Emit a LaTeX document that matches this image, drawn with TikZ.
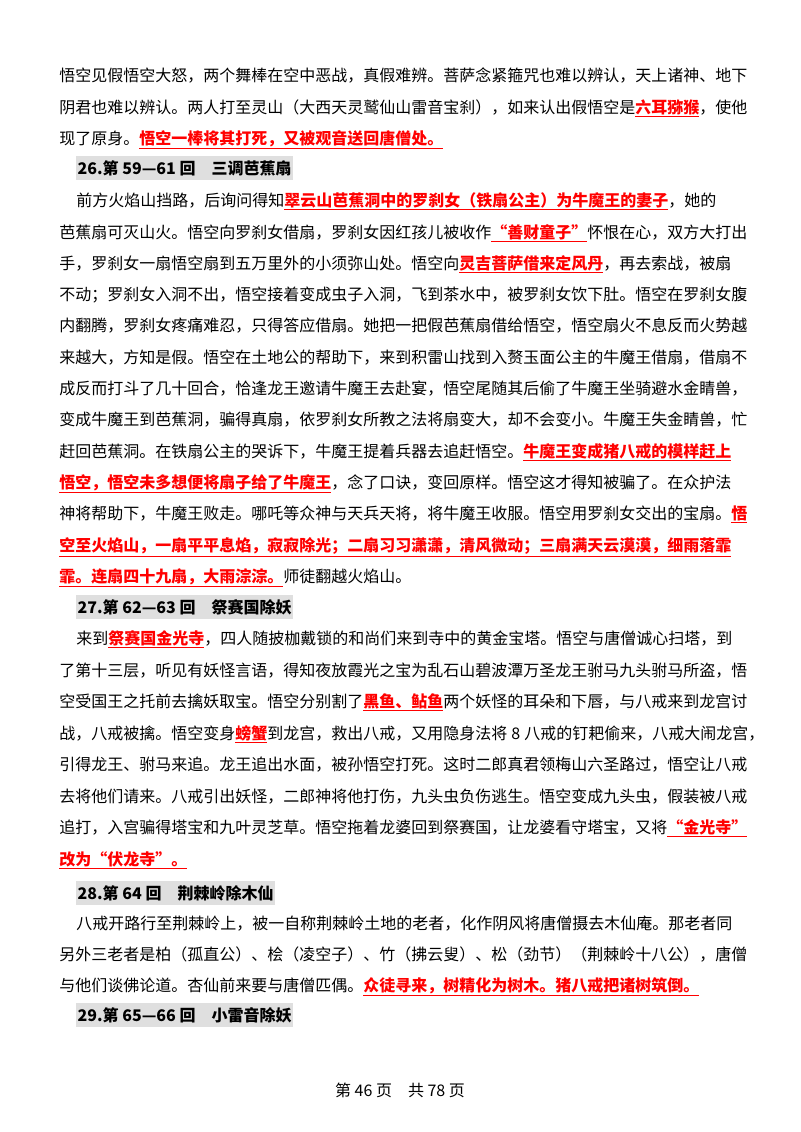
\documentclass[tikz,border=0pt]{standalone}
\usepackage{fontspec}
\usepackage{xcolor}
\setmainfont{Noto Sans CJK SC}
\XeTeXlinebreaklocale "zh"
\XeTeXlinebreakskip=0pt plus 6pt minus 0.5pt
\newcommand\redu[1]{{\color{red}\bfseries\underline{#1}}}
\newcommand\fline[3]{\node[txt] (#1) at (59,#2) {\hbox to 528.75pt{#3}};}
\newcommand\sline[4]{\node[txt] (#1) at (#2,#3) {#4};}
\newcommand\headline[3]{\node[head] (#1) at (76,#2) {#3};}
\tikzset{
  txt/.style={anchor=base west,inner sep=0pt,font=\fontsize{12pt}{14pt}\selectfont},
  head/.style={anchor=base west,inner xsep=1pt,inner ysep=3pt,fill=gray!25,font=\fontsize{12pt}{14pt}\selectfont\bfseries}
}
\begin{document}
\begin{tikzpicture}[x=0.75pt,y=-0.75pt]
\useasboundingbox[fill=white] (0,0) rectangle (800,1132);
% 25 (end)
\fline{l1}{81}{悟空见假悟空大怒，两个舞棒在空中恶战，真假难辨。菩萨念紧箍咒也难以辨认，天上诸神、地下}
\fline{l2}{113}{阴君也难以辨认。两人打至灵山（大西天灵鹫仙山雷音宝刹），如来认出假悟空是\redu{六耳猕猴}，使他}
\sline{l3}{59}{144}{现了原身。\redu{悟空一棒将其打死，又被观音送回唐僧处。}}
% 26
\headline{h26}{174}{26.第 59—61 回\quad 三调芭蕉扇}
\node[txt] (p1) at (76,206) {\hbox to 511.75pt{前方火焰山挡路，后询问得知\redu{翠云山芭蕉洞中的罗刹女（铁扇公主）为牛魔王的妻子}，她的}};
\fline{p2}{238}{芭蕉扇可灭山火。悟空向罗刹女借扇，罗刹女因红孩儿被收作\redu{“善财童子”}怀恨在心，双方大打出}
\fline{p3}{269}{手，罗刹女一扇悟空扇到五万里外的小须弥山处。悟空向\redu{灵吉菩萨借来定风丹}，再去索战，被扇}
\fline{p4}{300}{不动；罗刹女入洞不出，悟空接着变成虫子入洞，飞到茶水中，被罗刹女饮下肚。悟空在罗刹女腹}
\fline{p5}{331}{内翻腾，罗刹女疼痛难忍，只得答应借扇。她把一把假芭蕉扇借给悟空，悟空扇火不息反而火势越}
\fline{p6}{363}{来越大，方知是假。悟空在土地公的帮助下，来到积雷山找到入赘玉面公主的牛魔王借扇，借扇不}
\fline{p7}{394}{成反而打斗了几十回合，恰逢龙王邀请牛魔王去赴宴，悟空尾随其后偷了牛魔王坐骑避水金睛兽，}
\fline{p8}{425}{变成牛魔王到芭蕉洞，骗得真扇，依罗刹女所教之法将扇变大，却不会变小。牛魔王失金睛兽，忙}
\fline{p9}{457}{赶回芭蕉洞。在铁扇公主的哭诉下，牛魔王提着兵器去追赶悟空。\redu{牛魔王变成猪八戒的模样赶上}}
\fline{p10}{488}{\redu{悟空，悟空未多想便将扇子给了牛魔王}，念了口诀，变回原样。悟空这才得知被骗了。在众护法}
\fline{p11}{519}{神将帮助下，牛魔王败走。哪吒等众神与天兵天将，将牛魔王收服。悟空用罗刹女交出的宝扇。\redu{悟}}
\fline{p12}{551}{\redu{空至火焰山，一扇平平息焰，寂寂除光；二扇习习潇潇，清风微动；三扇满天云漠漠，细雨落霏}}
\sline{p13}{59}{582}{\redu{霏。连扇四十九扇，大雨淙淙。}师徒翻越火焰山。}
% 27
\headline{h27}{613}{27.第 62—63 回\quad 祭赛国除妖}
\node[txt] (q1) at (76,644) {\hbox to 511.75pt{来到\redu{祭赛国金光寺}，四人随披枷戴锁的和尚们来到寺中的黄金宝塔。悟空与唐僧诚心扫塔，到}};
\fline{q2}{676}{了第十三层，听见有妖怪言语，得知夜放霞光之宝为乱石山碧波潭万圣龙王驸马九头驸马所盗，悟}
\fline{q3}{707}{空受国王之托前去擒妖取宝。悟空分别割了\redu{黑鱼、鲇鱼}两个妖怪的耳朵和下唇，与八戒来到龙宫讨}
\fline{q4}{739}{战，八戒被擒。悟空变身\redu{螃蟹}到龙宫，救出八戒，又用隐身法将 8 八戒的钉耙偷来，八戒大闹龙宫，}
\fline{q5}{770}{引得龙王、驸马来追。龙王追出水面，被孙悟空打死。这时二郎真君领梅山六圣路过，悟空让八戒}
\fline{q6}{802}{去将他们请来。八戒引出妖怪，二郎神将他打伤，九头虫负伤逃生。悟空变成九头虫，假装被八戒}
\fline{q7}{833}{追打，入宫骗得塔宝和九叶灵芝草。悟空拖着龙婆回到祭赛国，让龙婆看守塔宝，又将\redu{“金光寺”}}
\sline{q8}{59}{865}{\redu{改为“伏龙寺”。}}
% 28
\headline{h28}{899}{28.第 64 回\quad 荆棘岭除木仙}
\node[txt] (r1) at (76,929) {\hbox to 511.75pt{八戒开路行至荆棘岭上，被一自称荆棘岭土地的老者，化作阴风将唐僧摄去木仙庵。那老者同}};
\fline{r2}{960}{另外三老者是柏（孤直公）、桧（凌空子）、竹（拂云叟）、松（劲节）（荆棘岭十八公），唐僧}
\sline{r3}{59}{991}{与他们谈佛论道。杏仙前来要与唐僧匹偶。\redu{众徒寻来，树精化为树木。猪八戒把诸树筑倒。}}
% 29
\headline{h29}{1021}{29.第 65—66 回\quad 小雷音除妖}
% footer
\node[txt,anchor=base] (foot) at (400,1096) {第\ 46\ 页\quad 共\ 78\ 页};
\end{tikzpicture}
\end{document}
